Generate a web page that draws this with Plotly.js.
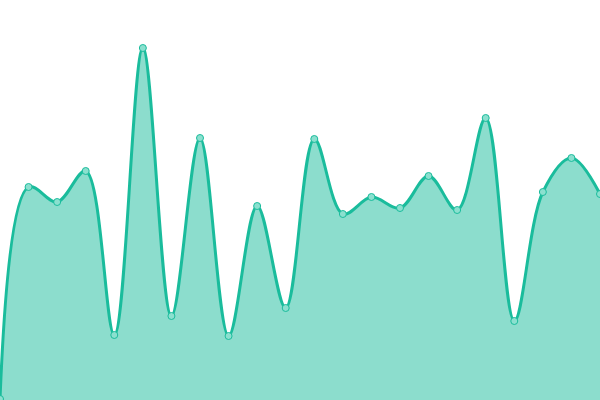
<!DOCTYPE html>
<html>
<head>
<meta charset="utf-8">
<script src="https://cdn.plot.ly/plotly-3.0.1.min.js"></script>
<style>
	html, body { margin: 0; padding: 0; background: #fff; }
	#chart { width: 600px; height: 400px; }
</style>
</head>
<body>
<div id="chart"></div>
<script>
// values, one per point
const xs     = [ 0, 1, 2, 3, 4, 5, 6, 7, 8, 9, 10, 11, 12, 13, 14, 15, 16, 17, 18, 19, 20, 21 ];
const values = [ 1, 213, 198, 229, 65, 352, 84, 262, 64, 194, 92, 261, 186, 203, 192, 224, 190, 282, 79, 208, 242, 206 ];

const LINE_COLOR = '#1abc9c';
const FILL_COLOR = 'rgba(26,188,156,0.5)';

const trace = {
	x         : xs,
	y         : values,
	type      : 'scatter',
	mode      : 'lines+markers',
	fill      : 'tozeroy',
	fillcolor : FILL_COLOR,
	line      : { color: LINE_COLOR, width: 3, shape: 'spline', smoothing: 1 },
	marker    : { size: 7, color: '#8be0cf', line: { color: LINE_COLOR, width: 1 } },
	cliponaxis: true,
	hoverinfo : 'none'
};

const layout = {
	width        : 600,
	height       : 400,
	margin       : { l: 0, r: 0, t: 0, b: 0 },
	paper_bgcolor: '#fff',
	plot_bgcolor : '#fff',
	showlegend   : false,
	xaxis        : { range: [ 0, 21 ], visible: false, fixedrange: true },
	yaxis        : { range: [ 0, 400 ], visible: false, fixedrange: true }
};

Plotly.newPlot( 'chart', [ trace ], layout, { displayModeBar: false, staticPlot: true } );
</script>
</body>
</html>
